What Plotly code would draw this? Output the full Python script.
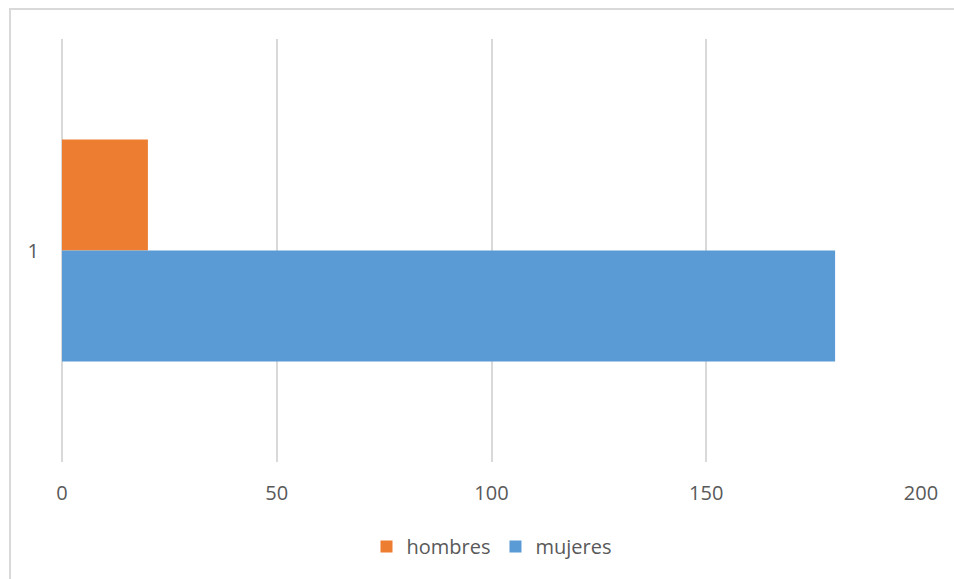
import plotly.graph_objects as go

categories = ["1"]
hombres = [20]
mujeres = [180]
x_ticks = [0, 50, 100, 150, 200]

W, H = 954, 579
ml, mr, mt, mb = 62, 33, 39, 117
pw, ph = W - ml - mr, H - mt - mb

fig = go.Figure()
fig.add_trace(go.Bar(y=categories, x=hombres, name="hombres", orientation="h",
                     marker=dict(color="#ED7D31", line=dict(width=0))))
fig.add_trace(go.Bar(y=categories, x=mujeres, name="mujeres", orientation="h",
                     marker=dict(color="#5B9BD5", line=dict(width=0))))

font = "Open Sans, Liberation Sans, sans-serif"
fig.update_layout(
    width=W, height=H,
    margin=dict(l=ml, r=mr, t=mt, b=mb, pad=0),
    paper_bgcolor="white", plot_bgcolor="white",
    barmode="group", bargap=0.475, bargroupgap=0,
    font=dict(family=font, size=20, color="#595959"),
    showlegend=True,
    legend=dict(orientation="h", x=0.5, xanchor="center", y=-0.2, yanchor="middle",
                font=dict(size=20, color="#595959"), itemwidth=30,
                bgcolor="rgba(0,0,0,0)"),
    xaxis=dict(range=[0, 200], tickvals=x_ticks, showgrid=True, gridcolor="#D9D9D9",
               gridwidth=1.5, zeroline=True, zerolinecolor="#D9D9D9", zerolinewidth=1.5,
               showline=False, ticks="outside", ticklen=13, tickcolor="rgba(0,0,0,0)",
               tickfont=dict(size=20, color="#595959")),
    yaxis=dict(type="category", autorange="reversed", showgrid=False, zeroline=False,
               showline=False, ticks="outside", ticklen=18, tickcolor="rgba(0,0,0,0)",
               tickfont=dict(size=20, color="#595959")),
    shapes=[dict(type="rect", xref="paper", yref="paper",
                 x0=(10 - ml) / pw, x1=(W + 20 - ml) / pw,
                 y0=-(mb + 20) / ph, y1=(H - mb - 9) / ph,
                 line=dict(color="#D9D9D9", width=2), fillcolor="rgba(0,0,0,0)",
                 layer="below")],
)

fig.write_html("out.html", config={"displayModeBar": False},
               post_script="document.body.style.margin='0';")
